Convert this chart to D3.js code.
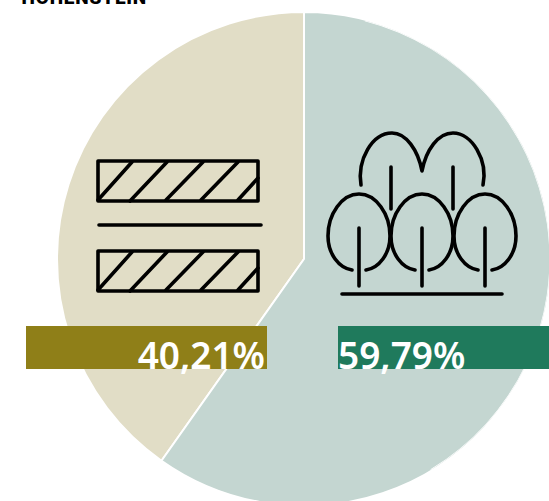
<!DOCTYPE html>
<html><head><meta charset="utf-8">
<script src="https://cdn.jsdelivr.net/npm/d3@7"></script>
<style>html,body{margin:0;padding:0;background:#fff;overflow:hidden}svg{display:block}</style>
</head><body><svg id="c" width="549" height="501"></svg>
<script>
const titleText = "HOHENSTEIN";
const categories = ["Offenland","Wald"];
const shares = [40.21, 59.79];
const labels = ["40,21%","59,79%"];
const sliceColors = ["#e1ddc6","#c4d6d1"];
const badgeColors = ["#8f7f18","#1f7a5c"];

const svg = d3.select("#c");
const cx = 304, cy = 259, R = 247;
const root = svg.append("g").attr("transform",`translate(${cx},${cy})`);

// draw so that first slice (ends at top) sits left of 12 o'clock
const pie = d3.pie().sort(null).value(d=>d).startAngle(-2*Math.PI*shares[0]/100).endAngle(2*Math.PI-2*Math.PI*shares[0]/100);
const arc = d3.arc().innerRadius(0).outerRadius(R);
root.selectAll("path.slice").data(pie(shares)).join("path").attr("class","slice")
  .attr("d",arc).attr("fill",(d,i)=>sliceColors[i]).attr("stroke","#fff").attr("stroke-width",2).attr("stroke-linejoin","round");

// thin white rim on right part
root.append("path").attr("d",d3.arc().innerRadius(R-1.6).outerRadius(R-0.9).startAngle(0.25).endAngle(2.6)()).attr("fill","#fff");

svg.append("text").text(titleText).attr("x",147).attr("y",4).attr("text-anchor","end")
  .attr("font-family","Roboto").attr("font-weight",900).attr("font-size",19).attr("letter-spacing",0.8).attr("fill","#000");

// icons
const ink = svg.append("g").attr("fill","none").attr("stroke","#000").attr("stroke-width",3.6).attr("stroke-linecap","round").attr("stroke-linejoin","round");
function wall(y){
  ink.append("rect").attr("x",98).attr("y",y).attr("width",160).attr("height",40);
  const segs=[[98,y+39,132,y+1],[130,y+40,167,y+1],[166,y+39,203,y+1],[201,y+39,238,y+1],[238,y+39,258,y+17]];
  segs.forEach(s=>ink.append("line").attr("x1",s[0]).attr("y1",s[1]).attr("x2",s[2]).attr("y2",s[3]));
}
wall(161); wall(251);
ink.append("line").attr("x1",99).attr("x2",261).attr("y1",225).attr("y2",225);

ink.append("path").attr("d","M361 185 C357 160 372 133 392 133 C406 133 418 150 422 171 C426 150 438 133 453 133 C472 133 488 160 483 185");
[[391,167,391,209],[453,167,453,209]].forEach(s=>ink.append("line").attr("x1",s[0]).attr("y1",s[1]).attr("x2",s[2]).attr("y2",s[3]));
function tree(x){
  ink.append("path").attr("d",`M${x-7} 270 C${x-20} 268 ${x-31} 254 ${x-31} 236 C${x-31} 214 ${x-17} 194 ${x} 194 C${x+17} 194 ${x+31} 214 ${x+31} 236 C${x+31} 254 ${x+20} 268 ${x+7} 270`);
  ink.append("line").attr("x1",x).attr("x2",x).attr("y1",228).attr("y2",286);
}
[359,422,485].forEach(tree);
ink.append("line").attr("x1",342).attr("x2",502).attr("y1",294).attr("y2",294);

// badges and labels
const bx = [26,338], bw=[241,211];
badgeColors.forEach((c,i)=>svg.append("rect").attr("x",bx[i]).attr("y",326).attr("width",bw[i]).attr("height",43).attr("fill",c));
svg.append("text").text(labels[0]).attr("x",265).attr("y",369).attr("text-anchor","end").attr("font-family","Noto Sans").attr("font-weight",600).attr("font-size",37).attr("fill","#fff");
svg.append("text").text(labels[1]).attr("x",338).attr("y",369).attr("font-family","Noto Sans").attr("font-weight",600).attr("font-size",37).attr("fill","#fff");
</script></body></html>
